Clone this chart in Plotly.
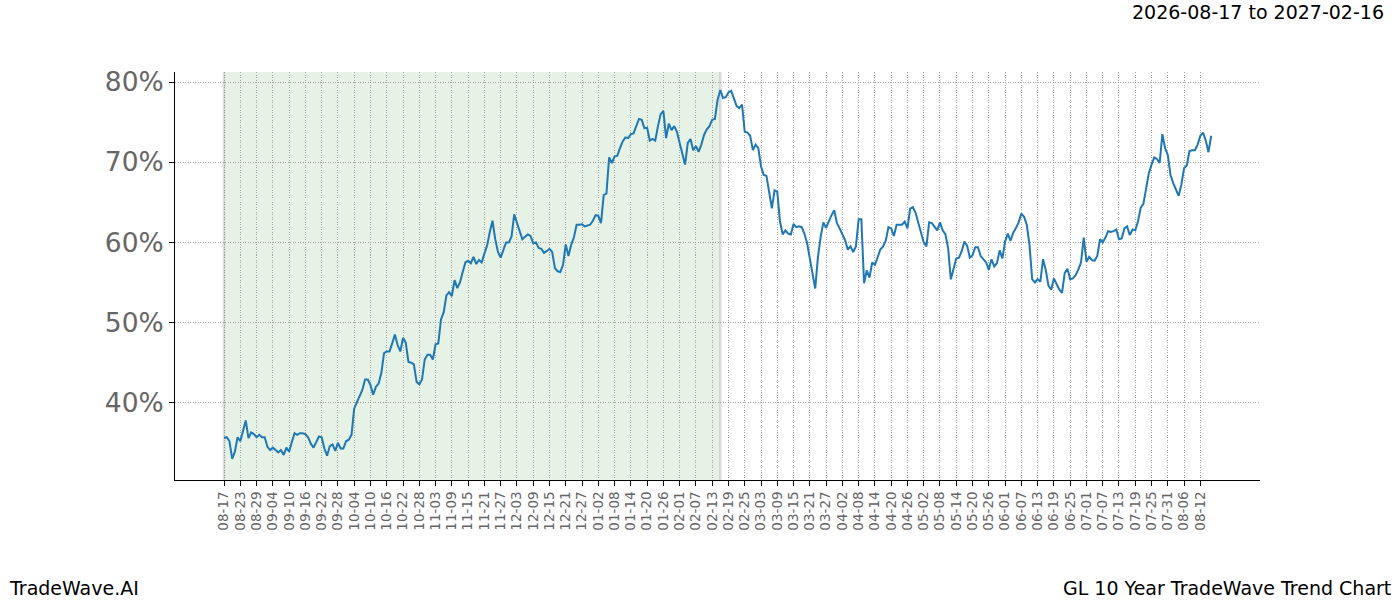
import plotly.graph_objects as go
import pandas as pd

# ---- data -------------------------------------------------------------
START = "2026-08-17"
SHADE_END = "2027-02-16"
TICK_END = "2027-08-12"
title_range = "2026-08-17 to 2027-02-16"
brand = "TradeWave.AI"
chart_name = "GL 10 Year TradeWave Trend Chart"

# daily trend values (%), one per calendar day
trend_pct = [
    # 08-17 .. 10-17
    35.6, 35.7, 35.2, 33.0, 33.9, 35.7, 35.2, 36.7, 37.8, 35.6,
    36.3, 36.1, 35.7, 36.0, 35.7, 35.7, 34.5, 34.1, 34.4, 34.1,
    33.8, 34.1, 33.5, 34.4, 33.9, 35.1, 36.2, 36.0, 36.2, 36.2, 36.1,
    35.7, 34.9, 34.4, 35.1, 35.8, 35.7, 34.3, 33.4, 34.6, 34.8,
    34.0, 35.0, 34.3, 34.3, 35.2, 35.4, 36.0, 39.3, 40.0, 40.9,
    41.6, 42.9, 42.9, 42.2, 41.0, 42.0, 42.4, 43.7, 46.2, 46.4,
    46.4,
    # 10-18 .. 12-18
    47.4, 48.5, 47.2, 46.4, 48.1, 47.5, 45.1, 45.0, 44.8, 42.6,
    42.3, 42.9, 45.4, 46.0, 46.0, 45.4, 47.3, 47.4, 50.4, 51.3,
    53.4, 53.8, 53.3, 55.3, 54.3, 55.0, 56.3, 57.5, 57.7, 57.4,
    58.2, 57.3, 57.8, 57.5, 58.6, 59.6, 61.3, 62.7, 60.4, 58.8,
    58.1, 59.0, 60.0, 60.0, 60.7, 63.5, 62.4, 61.5, 60.4, 60.7,
    61.0, 60.8, 59.9, 60.0, 59.3, 59.2, 58.7, 58.9, 59.2, 58.8,
    56.8, 56.4,
    # 12-19 .. 02-19
    56.3, 57.2, 59.75, 58.3, 59.7, 60.6, 62.2, 62.2, 62.25, 62.0,
    62.1, 62.2, 62.7, 63.4, 63.3, 62.4, 65.9, 66.1, 70.6, 69.9,
    70.7, 70.8, 71.75, 72.6, 73.1, 73.0, 73.5, 73.6, 74.5, 75.4,
    75.3, 74.25, 74.3, 72.7, 72.9, 72.7, 74.5, 76.0, 76.4, 73.0,
    74.8, 74.0, 74.5, 73.8, 72.4, 71.2, 69.7, 72.4, 72.9, 71.5,
    72.0, 71.3, 72.2, 73.4, 74.1, 74.5, 75.3, 75.4, 77.8, 79.0,
    78.0, 78.1, 78.7,
    # 02-20 .. 04-22
    78.9, 78.0, 77.0, 76.75, 77.2, 73.8, 73.7, 73.3, 71.5, 72.2,
    71.75, 69.5, 68.4, 68.3, 66.1, 64.25, 66.5, 66.3, 62.6, 61.0,
    61.5, 61.1, 61.0, 62.3, 61.9, 62.0, 61.9, 61.1, 59.9, 58.2,
    56.1, 54.25, 58.2, 60.7, 62.5, 61.8, 62.7, 63.4, 64.0, 62.4,
    61.75, 61.0, 60.3, 59.1, 59.5, 58.8, 59.5, 62.9, 62.9, 54.9,
    56.5, 55.6, 57.5, 57.2, 58.2, 59.1, 59.5, 60.2, 61.9, 61.75,
    60.8, 62.2,
    # 04-23 .. 06-21
    62.2, 62.2, 62.6, 61.75, 64.2, 64.4, 63.7, 62.4, 61.1, 60.0,
    59.5, 62.5, 62.4, 62.0, 61.5, 62.5, 61.5, 61.0, 59.25, 55.4,
    56.8, 58.0, 58.1, 58.9, 60.1, 59.6, 58.1, 58.4, 59.4, 59.4,
    58.3, 57.9, 57.5, 56.6, 57.9, 57.0, 57.4, 59.0, 58.0, 60.1,
    61.1, 60.2, 61.2, 61.8, 62.5, 63.6, 63.2, 62.2, 59.7, 55.4,
    55.0, 55.4, 55.1, 57.9, 56.55, 54.6, 54.1, 55.5, 54.7, 54.1,
    # 06-22 .. 08-16
    53.7, 56.2, 56.7, 55.4, 55.5, 55.9, 56.6, 57.5, 60.6, 57.6,
    58.2, 57.8, 57.7, 58.3, 60.4, 60.0, 60.6, 61.4, 61.3, 61.4,
    61.6, 60.4, 60.5, 61.75, 62.0, 60.9, 61.6, 61.5, 62.6, 64.3,
    64.8, 67.0, 68.6, 69.7, 70.6, 70.4, 69.9, 73.5, 71.75, 70.9,
    68.4, 67.4, 66.5, 65.8, 67.2, 69.25, 69.6, 71.4, 71.5, 71.5,
    72.2, 73.3, 73.7, 72.7, 71.25, 73.3,
]

y_ticks = [40, 50, 60, 70, 80]
y_tick_text = [f"{v}%" for v in y_ticks]

dates = pd.date_range(START, periods=len(trend_pct), freq="D")
tick_dates = pd.date_range(START, TICK_END, freq="6D")
tick_text = [d.strftime("%m-%d") for d in tick_dates]

# ---- figure -----------------------------------------------------------
FONT = "DejaVu Sans"
fig = go.Figure()
fig.add_trace(go.Scatter(
    x=dates, y=trend_pct, mode="lines",
    line=dict(color="#1f77b4", width=2),
    hoverinfo="skip", showlegend=False,
))

fig.add_shape(type="rect", xref="x", yref="paper", x0=START, x1=SHADE_END,
              y0=0, y1=1, fillcolor="rgba(0,128,0,0.1)", line_width=0,
              layer="below")
for xv in (START, SHADE_END):
    fig.add_shape(type="line", xref="x", yref="paper", x0=xv, x1=xv,
                  y0=0, y1=1, line=dict(color="rgba(150,150,150,0.3)", width=2.5),
                  layer="below")

grid_col = "rgba(140,140,140,0.75)"
grid_dash = "1px,1.5px"
fig.update_xaxes(
    type="date",
    range=["2026-07-29 22:00", "2027-09-03 00:00"],
    tickmode="array", tickvals=tick_dates, ticktext=tick_text,
    tickangle=-90, tickfont=dict(family=FONT, size=13.5, color="#666666"),
    ticks="outside", ticklen=5, tickcolor="black", tickwidth=1,
    showline=True, linecolor="black", linewidth=1, mirror=False,
    showgrid=True, gridcolor=grid_col, gridwidth=0.8, griddash=grid_dash,
    zeroline=False,
)
fig.update_yaxes(
    range=[30.37, 81.25],
    tickmode="array", tickvals=y_ticks, ticktext=y_tick_text,
    tickfont=dict(family=FONT, size=26.5, color="#666666"),
    ticks="outside", ticklen=5, tickcolor="black", tickwidth=1,
    showline=True, linecolor="black", linewidth=1, mirror=False,
    showgrid=True, gridcolor=grid_col, gridwidth=0.8, griddash=grid_dash,
    zeroline=False,
)

annots = [
    dict(text=title_range, x=1.1161, y=1.147, xanchor="right", yanchor="middle"),
    dict(text=brand, x=-0.1548, y=-0.2647, xanchor="left", yanchor="middle"),
    dict(text=chart_name, x=1.1226, y=-0.2647, xanchor="right", yanchor="middle"),
]
for a in annots:
    fig.add_annotation(xref="paper", yref="paper", showarrow=False,
                       font=dict(family=FONT, size=19, color="black"), **a)

fig.update_layout(
    width=1400, height=600,
    margin=dict(l=175, r=140, t=72, b=120, autoexpand=False),
    plot_bgcolor="white", paper_bgcolor="white",
    font=dict(family=FONT),
)

fig.write_html(
    "out.html",
    config={"displayModeBar": False},
    post_script="document.body.style.margin='0px';document.body.style.overflow='hidden';",
)
